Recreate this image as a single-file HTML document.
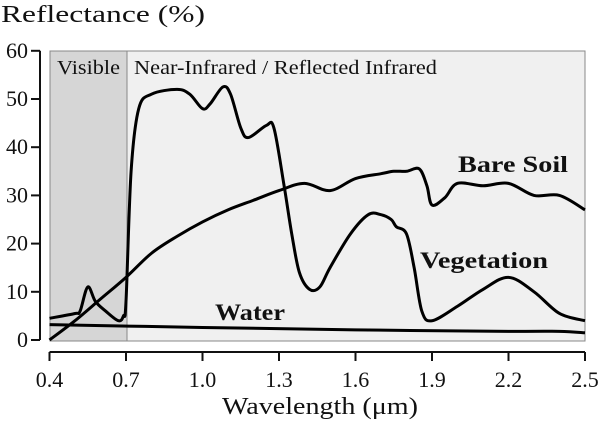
<!DOCTYPE html>
<html><head><meta charset="utf-8"><style>
body{margin:0;background:#fff}
svg{display:block;font-family:"Liberation Serif",serif}
</style></head><body>
<svg id="c" width="600" height="421" viewBox="0 0 600 421">
<rect x="50" y="51" width="535" height="290" fill="#f0f0f0" stroke="#888" stroke-width="1"/>
<rect x="50" y="51" width="77" height="290" fill="#d6d6d6" stroke="#888" stroke-width="1"/>
<text x="57" y="74" font-size="20" fill="#111" textLength="63" lengthAdjust="spacingAndGlyphs">Visible</text>
<text x="134" y="74" font-size="20" fill="#111" textLength="303" lengthAdjust="spacingAndGlyphs">Near-Infrared / Reflected Infrared</text>
<text x="1" y="22" font-size="24" fill="#111" textLength="204" lengthAdjust="spacingAndGlyphs">Reflectance (%)</text>
<text x="222" y="414" font-size="24" fill="#111" textLength="196" lengthAdjust="spacingAndGlyphs">Wavelength (μm)</text>
<g id="axes"></g>
<g id="series"></g>
<text x="458" y="172" font-size="23" font-weight="bold" fill="#111" textLength="110" lengthAdjust="spacingAndGlyphs">Bare Soil</text>
<text x="420" y="268" font-size="23" font-weight="bold" fill="#111" textLength="128" lengthAdjust="spacingAndGlyphs">Vegetation</text>
<text x="215" y="320" font-size="23" font-weight="bold" fill="#111" textLength="70" lengthAdjust="spacingAndGlyphs">Water</text>
</svg>
<script>
const xTicks=[0.4,0.7,1.0,1.3,1.6,1.9,2.2,2.5];
const xTickLabels=["0.4","0.7","1.0","1.3","1.6","1.9","2.2","2.5"];
const yTicks=[0,10,20,30,40,50,60];
const vegX=[0.4,0.5,0.52,0.55,0.58,0.62,0.67,0.69,0.7,0.72,0.75,0.8,0.9,0.95,1.0,1.03,1.08,1.11,1.15,1.18,1.25,1.28,1.32,1.35,1.38,1.42,1.46,1.5,1.58,1.65,1.7,1.74,1.76,1.8,1.83,1.86,1.9,2.0,2.1,2.2,2.3,2.4,2.5];
const vegY=[4.5,5.5,6,11,8,6,4,5,8,35,48,51,52,51,48,49,52.5,51,44,42,44.5,44,32,22,14,10.5,11,15,22,26,26,25,23.5,22,15,6,4,7,10.5,13,10,5.5,4];
const soilX=[0.4,0.5,0.6,0.7,0.8,0.9,1.0,1.1,1.2,1.3,1.4,1.5,1.6,1.7,1.75,1.8,1.85,1.88,1.9,1.95,2.0,2.1,2.2,2.3,2.4,2.5];
const soilY=[0,4,8.5,13,18,21.5,24.5,27,29,31,32.5,31,33.5,34.5,35,35,35.5,32,28,29.5,32.5,32,32.5,30,30,27];
const waterX=[0.4,1.0,1.6,2.2,2.4,2.5];
const waterY=[3.2,2.6,2.1,1.8,1.8,1.5];
const NS="http://www.w3.org/2000/svg";
const sx=v=>49.5+(v-0.4)*255;
const sy=v=>340-v*4.82;
function mk(t,a,p){const e=document.createElementNS(NS,t);for(const k in a)e.setAttribute(k,a[k]);p.appendChild(e);return e;}
const ax=document.getElementById('axes');
let l=mk('line',{x1:40,y1:sy(0),x2:40,y2:sy(60),stroke:'#111','stroke-width':2},ax);


l=mk('line',{x1:sx(0.4),y1:352,x2:sx(2.5),y2:352,stroke:'#111','stroke-width':2},ax);


yTicks.forEach(v=>{
 const t=mk('line',{x1:31,y1:sy(v),x2:40,y2:sy(v),stroke:'#111','stroke-width':2},ax);
 
 
 const tx=mk('text',{x:28,y:sy(v)+7,'font-size':22,'text-anchor':'end',fill:'#111'},ax);
 tx.textContent=v;
 
 
});
xTicks.forEach((v,i)=>{
 const t=mk('line',{x1:sx(v),y1:352,x2:sx(v),y2:361,stroke:'#111','stroke-width':2},ax);
 
 
 const tx=mk('text',{x:sx(v),y:387,'font-size':22,'text-anchor':'middle',fill:'#111'},ax);
 tx.textContent=xTickLabels[i];
 
 
});
function path(xs,ys){
 const p=xs.map((x,i)=>[sx(x),sy(ys[i])]);
 let d='M'+p[0][0]+','+p[0][1];
 for(let i=0;i<p.length-1;i++){
  const p0=p[Math.max(0,i-1)],p1=p[i],p2=p[i+1],p3=p[Math.min(p.length-1,i+2)];
  const c1=[p1[0]+(p2[0]-p0[0])/6,p1[1]+(p2[1]-p0[1])/6];
  const c2=[p2[0]-(p3[0]-p1[0])/6,p2[1]-(p3[1]-p1[1])/6];
  d+=' C'+c1[0]+','+c1[1]+' '+c2[0]+','+c2[1]+' '+p2[0]+','+p2[1];
 }
 return d;
}
const sg=document.getElementById('series');
let s=mk('path',{d:path(waterX,waterY),fill:'none',stroke:'#000','stroke-width':3},sg);


s=mk('path',{d:path(soilX,soilY),fill:'none',stroke:'#000','stroke-width':3},sg);


s=mk('path',{d:path(vegX,vegY),fill:'none',stroke:'#000','stroke-width':3},sg);


</script>
</body></html>
